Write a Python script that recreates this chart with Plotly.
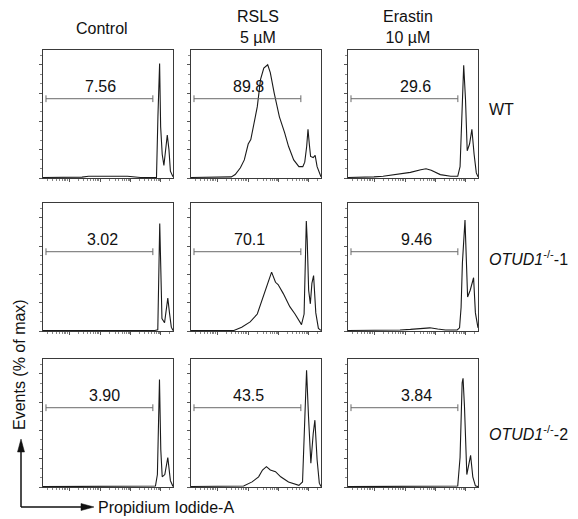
import plotly.graph_objects as go
import math

# ---------------- data ----------------
col_titles = ["Control", "RSLS<br>5 µM", "Erastin<br>10 µM"]
row_titles = ["WT", "<i>OTUD1</i><sup>-/-</sup>-1", "<i>OTUD1</i><sup>-/-</sup>-2"]

# gated percentages (row-major: WT, OTUD1-1, OTUD1-2 ; Control, RSLS, Erastin)
gate_pct = ["7.56", "89.8", "29.6",
            "3.02", "70.1", "9.46",
            "3.90", "43.5", "3.84"]

# PI fluorescence (axis position, 0-100) and events (% of max)
wt_ctrl_x = [0, 10, 20, 30, 35, 45, 55, 65, 75, 85, 87.3, 88.4, 89.7, 90.5, 91.7, 93, 94.3, 95.6, 96.9, 98, 100]
wt_ctrl_y = [0.5, 0.5, 0.8, 0.8, 1.5, 1.5, 1.8, 1.5, 0.5, 0.5, 0.5, 54, 101, 45, 21, 11, 28, 38, 25, 6, 1]

wt_rsls_x = [0, 10, 20, 31, 34, 38, 41, 44, 46, 48, 51, 53.5, 56, 59, 61, 64, 68, 72, 75, 79, 83, 86, 87.5, 89, 90, 91, 92, 94, 95.5, 97, 100]
wt_rsls_y = [0.5, 0.5, 1, 1, 3, 9, 16, 30, 34, 45, 63, 87, 97, 100, 93, 75, 54, 40, 28, 16, 10, 10, 14, 28, 43, 30, 19, 18, 20, 10, 1]

wt_era_x = [0, 10, 20, 27, 38, 48, 56, 60, 64, 71, 79, 84.4, 86.2, 87.8, 89, 90.4, 91.7, 93.5, 95.3, 97, 98.7, 100]
wt_era_y = [0.5, 0.5, 1, 1.5, 3, 5, 7.3, 8.2, 6.8, 3, 1.5, 1.5, 10, 69, 99.5, 69, 24, 30, 43, 21, 4.5, 1]

k1_ctrl_x = [0, 20, 50, 86, 88.3, 89, 89.8, 91, 91.5, 93.5, 95, 96, 97.4, 98.7, 100]
k1_ctrl_y = [0.3, 0.3, 0.5, 0.5, 1, 50, 95, 36, 11, 7.3, 20, 29, 15, 3.4, 0.5]

k1_rsls_x = [0, 20, 33, 39, 45.5, 51, 54.5, 58.5, 61, 62, 65, 67, 71, 76, 80, 85, 87, 88, 88.7, 89.4, 90.5, 91.8, 93, 94.3, 95, 96, 98, 100]
k1_rsls_y = [0.5, 0.5, 0.5, 3.4, 8, 15, 27, 42, 49, 52, 43, 41, 33, 21.5, 15, 5.6, 15, 60, 97, 80, 36, 24, 42, 49, 38, 16, 2.3, 0.5]

k1_era_x = [0, 20, 40, 48, 56, 63, 69, 75, 84, 85.8, 87, 88, 90, 91.2, 92, 94, 96.6, 98, 100]
k1_era_y = [0.5, 0.5, 0.9, 1.4, 2.3, 2.8, 1.7, 0.9, 0.9, 2.8, 21, 60, 98, 60, 30, 36, 47, 16, 2.8]

k2_ctrl_x = [0, 20, 50, 86.5, 88, 89, 89.6, 90.6, 91.7, 93.7, 96, 98, 100]
k2_ctrl_y = [0.3, 0.3, 0.5, 0.9, 11, 66, 95, 33, 9, 11, 26, 5.6, 0.5]

k2_rsls_x = [0, 20, 40.5, 47, 52, 55, 58, 61, 65, 69, 75, 83, 85.8, 87.6, 88.9, 90.4, 92.2, 94, 95.3, 97, 98.7, 100]
k2_rsls_y = [0.5, 0.5, 0.9, 4.5, 9, 15, 18, 15, 13.5, 9, 4.5, 1.5, 4.5, 62, 103, 62, 21, 47, 59, 24, 3.4, 0.5]

k2_era_x = [0, 20, 50, 84.4, 86.2, 87.8, 88.5, 89.6, 91.4, 92.7, 94.3, 96, 98, 100]
k2_era_y = [0.3, 0.3, 0.5, 0.9, 26, 92, 96, 71, 11, 18, 28, 9, 1, 0.3]

panels_x = [wt_ctrl_x, wt_rsls_x, wt_era_x, k1_ctrl_x, k1_rsls_x, k1_era_x, k2_ctrl_x, k2_rsls_x, k2_era_x]
panels_y = [wt_ctrl_y, wt_rsls_y, wt_era_y, k1_ctrl_y, k1_rsls_y, k1_era_y, k2_ctrl_y, k2_rsls_y, k2_era_y]

# gate (range marker) in axis units
gate_x0 = 2.3
gate_x1 = 84.5
gate_y = 70
# label centre positions along the axis
label_x = [44, 44, 52, 46, 45, 53, 47.5, 44, 53]

y_major = [0, 25, 50, 75, 100]
x_major = [20, 44, 67, 90]

# ---------------- layout ----------------
W, H = 578, 519
col_left = [43, 191, 348]
row_top = [50, 203, 359]
pw, ph = 130, 128
FONT = "Arial, Liberation Sans, sans-serif"

def px(x):
    return x / W

def py(y):
    return 1 - y / H

# minor ticks on the log-like x axis
dec = x_major[1] - x_major[0]
x_minor = []
for base in [x_major[0] - dec] + x_major:
    for k in range(2, 10):
        v = base + dec * math.log10(k)
        if 0 < v < 100:
            x_minor.append(round(v, 2))

fig = go.Figure()
layout_axes = {}
shapes = []
annotations = []

for i in range(9):
    r, c = divmod(i, 3)
    n = "" if i == 0 else str(i + 1)
    fig.add_trace(go.Scatter(
        x=panels_x[i], y=panels_y[i], mode="lines",
        line=dict(color="#1a1a1a", width=1.1),
        xaxis="x" + n, yaxis="y" + n, hoverinfo="skip", showlegend=False))
    common = dict(showgrid=False, zeroline=False, showline=True, mirror=True,
                  linecolor="#3a3a3a", linewidth=1, ticks="outside", ticklen=3,
                  tickwidth=1, tickcolor="#555", showticklabels=False, fixedrange=True)
    layout_axes["xaxis" + n] = dict(
        domain=[px(col_left[c]), px(col_left[c] + pw)], range=[0, 100],
        anchor="y" + n, tickmode="array", tickvals=x_major,
        minor=dict(tickmode="array", tickvals=x_minor, ticks="outside",
                   ticklen=2, tickcolor="#888"),
        **common)
    layout_axes["yaxis" + n] = dict(
        domain=[py(row_top[r] + ph), py(row_top[r])], range=[0, 113],
        anchor="x" + n, tickmode="array", tickvals=y_major,
        minor=dict(dtick=25 / 3, tick0=0, ticks="outside", ticklen=2, tickcolor="#888"),
        **common)
    xr, yr = "x" + n, "y" + n
    gc = "#6a6a6a"
    shapes.append(dict(type="line", xref=xr, yref=yr, x0=gate_x0, x1=gate_x1,
                       y0=gate_y, y1=gate_y, line=dict(color=gc, width=1)))
    for gx in (gate_x0, gate_x1):
        shapes.append(dict(type="line", xref=xr, yref=yr, x0=gx, x1=gx,
                           y0=gate_y - 3, y1=gate_y + 3, line=dict(color=gc, width=1)))
    annotations.append(dict(text=gate_pct[i], xref=xr, yref=yr, x=label_x[i], y=gate_y + 1.5,
                            xanchor="center", yanchor="bottom", showarrow=False,
                            font=dict(family=FONT, size=16, color="#111")))

# column titles
col_cx = [102, 258, 408]
col_cy = [29, 27, 27]
for c in range(3):
    annotations.append(dict(text=col_titles[c], xref="paper", yref="paper", x=px(col_cx[c]), y=py(col_cy[c]),
                            xanchor="center", yanchor="middle", showarrow=False,
                            font=dict(family=FONT, size=16, color="#111")))

# row titles
row_y = [110, 258, 433]
for r in range(3):
    annotations.append(dict(text=row_titles[r], xref="paper", yref="paper", x=px(487), y=py(row_y[r]),
                            xanchor="left", yanchor="middle", showarrow=False,
                            font=dict(family=FONT, size=16, color="#111")))

# axis titles
annotations.append(dict(text="Events (% of max)", xref="paper", yref="paper", x=px(19), y=py(365),
                        xanchor="center", yanchor="middle", textangle=-90, showarrow=False,
                        font=dict(family=FONT, size=16, color="#111")))
annotations.append(dict(text="Propidium Iodide-A", xref="paper", yref="paper", x=px(96), y=py(507),
                        xanchor="left", yanchor="middle", showarrow=False,
                        font=dict(family=FONT, size=16, color="#111")))

# corner arrows
ox, oy = 21, 507
shapes.append(dict(type="line", xref="paper", yref="paper", x0=px(ox), y0=py(oy), x1=px(ox), y1=py(451),
                   line=dict(color="#111", width=1.5)))
shapes.append(dict(type="line", xref="paper", yref="paper", x0=px(ox), y0=py(oy), x1=px(82), y1=py(oy),
                   line=dict(color="#111", width=1.5)))
shapes.append(dict(type="path", xref="paper", yref="paper",
                   path=f"M {px(ox)},{py(439)} L {px(ox-3.5)},{py(452)} L {px(ox+3.5)},{py(452)} Z",
                   fillcolor="#111", line=dict(color="#111", width=0.5)))
shapes.append(dict(type="path", xref="paper", yref="paper",
                   path=f"M {px(94)},{py(oy)} L {px(81)},{py(oy-3.5)} L {px(81)},{py(oy+3.5)} Z",
                   fillcolor="#111", line=dict(color="#111", width=0.5)))

fig.update_layout(width=W, height=H, margin=dict(l=0, r=0, t=0, b=0),
                  paper_bgcolor="white", plot_bgcolor="white",
                  shapes=shapes, annotations=annotations, **layout_axes)

fig.write_html("out.html", config={"displayModeBar": False},
               post_script="document.body.style.margin='0';document.body.style.overflow='hidden';")
